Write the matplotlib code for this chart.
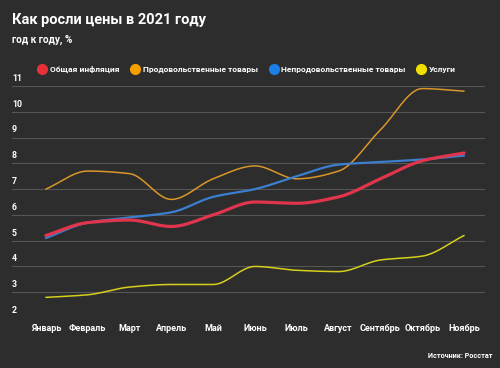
import numpy as np
import matplotlib
matplotlib.use("Agg")
import matplotlib.pyplot as plt
from matplotlib.lines import Line2D

months = ["Январь", "Февраль", "Март", "Апрель", "Май", "Июнь", "Июль",
          "Август", "Сентябрь", "Октябрь", "Ноябрь"]
general = [5.2, 5.7, 5.8, 5.55, 6.0, 6.5, 6.45, 6.7, 7.4, 8.1, 8.4]
food = [7.0, 7.7, 7.6, 6.6, 7.4, 7.9, 7.4, 7.7, 9.3, 10.9, 10.8]
nonfood = [5.1, 5.7, 5.9, 6.1, 6.7, 7.0, 7.5, 7.95, 8.05, 8.15, 8.3]
services = [2.8, 2.9, 3.2, 3.3, 3.3, 4.0, 3.85, 3.8, 4.25, 4.4, 5.2]
series_names = ["Общая инфляция", "Продовольственные товары",
                "Непродовольственные товары", "Услуги"]
yticks = [2, 3, 4, 5, 6, 7, 8, 9, 10, 11]


def monotone(x, y, n=20):
    x = np.asarray(x, float); y = np.asarray(y, float)
    h = np.diff(x); d = np.diff(y) / h
    m = np.zeros_like(y)
    m[0] = d[0]; m[-1] = d[-1]
    for i in range(1, len(y) - 1):
        if d[i - 1] * d[i] <= 0:
            m[i] = 0
        else:
            w1 = 2 * h[i] + h[i - 1]; w2 = h[i] + 2 * h[i - 1]
            m[i] = (w1 + w2) / (w1 / d[i - 1] + w2 / d[i])
    xs, ys = [], []
    for i in range(len(x) - 1):
        t = np.linspace(0, 1, n, endpoint=False)
        h00 = 2 * t**3 - 3 * t**2 + 1; h10 = t**3 - 2 * t**2 + t
        h01 = -2 * t**3 + 3 * t**2; h11 = t**3 - t**2
        xs.append(x[i] + t * h[i])
        ys.append(h00 * y[i] + h10 * h[i] * m[i] + h01 * y[i + 1] + h11 * h[i] * m[i + 1])
    xs.append([x[-1]]); ys.append([y[-1]])
    return np.concatenate(xs), np.concatenate(ys)


bg = "#2d2d2d"
plt.rcParams['font.family'] = ['Roboto', 'DejaVu Sans']
fig = plt.figure(figsize=(5, 3.68), dpi=100, facecolor=bg)
ax = fig.add_axes([0.024, 0.1359, 0.946, 0.6304], facecolor=bg)

x = np.arange(len(months))
styles = [
    (general, "#e0354c", 2.3, "#e8303a", 4),
    (food, "#d9972a", 1.1, "#f5a000", 2),
    (nonfood, "#3a7fd0", 1.6, "#1a7fe8", 3),
    (services, "#d6cf1e", 1.1, "#f0e000", 2),
]
for vals, col, lw, _, z in styles:
    xs, ys = monotone(x, vals)
    ax.plot(xs, ys, color=col, lw=lw, zorder=z, solid_capstyle='round')

ax.set_xlim(-0.81, 10.5)
ax.set_ylim(2, 11)
for v in yticks:
    ax.axhline(v, color="#555555", lw=0.8, zorder=1)
    ax.text(0.0, v + 0.12, str(v), transform=ax.get_yaxis_transform(),
            color="white", fontsize=6.3, fontweight='bold', ha='left', va='bottom')
ax.set_yticks([])
ax.set_xticks(x)
ax.set_xticklabels(months, color="white", fontsize=6.5, fontweight='bold')
ax.tick_params(axis='x', length=0, pad=4)
for s in ax.spines.values():
    s.set_visible(False)

handles = [Line2D([], [], marker='o', ls='', markersize=7, markerfacecolor=c,
                  markeredgecolor=c) for _, _, _, c, _ in styles]
leg = fig.legend(handles, series_names, loc='center', bbox_to_anchor=(0.494, 0.812),
                 ncol=4, frameon=False, fontsize=6.0, handletextpad=0.4,
                 columnspacing=1.4, handlelength=1.0)
for t in leg.get_texts():
    t.set_color("white"); t.set_fontweight('bold')

fig.text(0.024, 0.946, "Как росли цены в 2021 году", color="white", fontsize=10.5,
         fontweight='bold', ha='left', va='center')
fig.text(0.024, 0.893, "год к году, %", color="white", fontsize=7.2,
         fontweight='bold', ha='left', va='center')
fig.text(0.984, 0.033, "Источник: Росстат", color="white", fontsize=5.2,
         fontweight='bold', ha='right', va='center')

fig.savefig("out.png", dpi=100, facecolor=bg)
